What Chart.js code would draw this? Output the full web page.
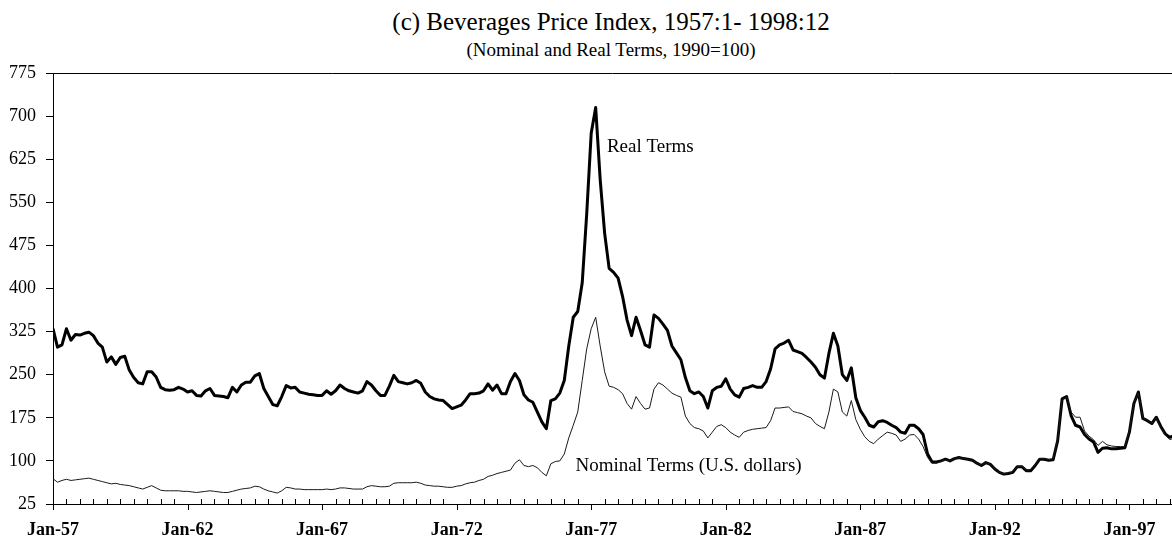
<!DOCTYPE html>
<html>
<head>
<meta charset="utf-8">
<title>Beverages Price Index</title>
<script src="https://cdn.jsdelivr.net/npm/chart.js@4.4.1/dist/chart.umd.min.js"></script>
<style>
  html, body { margin: 0; padding: 0; background: #fff; overflow: hidden; }
  #wrap { position: relative; width: 1172px; height: 542px; overflow: hidden; }
  .head { position: absolute; left: 0; width: 1222px; text-align: center; white-space: nowrap;
          font-family: "Liberation Serif", "Times New Roman", serif; color: #000; }
  #title { top: 9px; font-size: 25px; line-height: 26px; }
  #subtitle { top: 40px; font-size: 19px; line-height: 20px; }
  canvas { position: absolute; left: 0; top: 0; }
</style>
</head>
<body>
<div id="wrap">
  <div class="head" id="title">(c) Beverages Price Index, 1957:1- 1998:12</div>
  <div class="head" id="subtitle">(Nominal and Real Terms, 1990=100)</div>
  <canvas id="priceChart" width="1172" height="542"></canvas>
</div>
<script>
// x axis labels, one every 60 months starting Jan-57
const tickLabels = ['Jan-57', 'Jan-62', 'Jan-67', 'Jan-72', 'Jan-77', 'Jan-82', 'Jan-87', 'Jan-92', 'Jan-97'];
const yTicks = [25, 100, 175, 250, 325, 400, 475, 550, 625, 700, 775];

// values read every 2 months (Jan, Mar, May, Jul, Sep, Nov), 1957-1998
const monthStep = 2;

const realTerms = [
  330, 298, 302, 330, 310, 320,  // 1957
  319, 322, 324, 318, 305, 298,  // 1958
  272, 281, 268, 280, 282, 258,  // 1959
  245, 236, 234, 255, 255, 246,  // 1960
  228, 224, 223, 224, 228, 225,  // 1961
  220, 222, 214, 213, 222, 226,  // 1962
  214, 213, 212, 210, 228, 220,  // 1963
  232, 237, 237, 248, 252, 226,  // 1964
  212, 198, 196, 212, 231, 227,  // 1965
  228, 220, 218, 216, 215, 214,  // 1966
  214, 222, 216, 222, 232, 226,  // 1967
  222, 220, 218, 222, 238, 232,  // 1968
  222, 214, 214, 230, 249, 238,  // 1969
  236, 234, 236, 240, 235, 220,  // 1970
  212, 208, 206, 205, 198, 191,  // 1971
  194, 197, 206, 217, 217, 218,  // 1972
  222, 234, 223, 232, 217, 217,  // 1973
  238, 252, 240, 215, 206, 202,  // 1974
  185, 168, 156, 205, 208, 218,  // 1975
  240, 300, 350, 360, 410, 530,  // 1976
  670, 715, 590, 496, 435, 428,  // 1977
  418, 386, 345, 318, 350, 327,  // 1978
  302, 298, 354, 348, 338, 327,  // 1979
  300, 288, 276, 245, 222, 217,  // 1980
  220, 212, 192, 222, 228, 230,  // 1981
  243, 225, 215, 211, 226, 228,  // 1982
  231, 228, 228, 238, 260, 295,  // 1983
  302, 305, 310, 293, 290, 287,  // 1984
  280, 272, 263, 250, 244, 287,  // 1985
  322, 300, 250, 240, 262, 210,  // 1986
  188, 176, 162, 159, 168, 170,  // 1987
  167, 162, 158, 150, 148, 162,  // 1988
  162, 156, 146, 112, 98, 98,    // 1989
  100, 103, 100, 104, 106, 104,  // 1990
  103, 101, 96, 92, 97, 94,      // 1991
  86, 80, 77, 78, 80, 90,        // 1992
  90, 83, 83, 92, 103, 103,      // 1993
  101, 102, 135, 208, 212, 179,  // 1994
  162, 159, 146, 138, 133, 115,  // 1995
  122, 123, 121, 121, 122, 123,  // 1996
  150, 200, 220, 174, 170, 165,  // 1997
  176, 160, 147, 141, 144, 140   // 1998
];

const nominalTerms = [
  69, 63, 66, 68, 66, 67,        // 1957
  68, 69, 70, 68, 66, 64,        // 1958
  62, 60, 61, 59, 58, 57,        // 1959
  55, 53, 51, 54, 57, 53,        // 1960
  49, 48, 48, 48, 48, 47,        // 1961
  47, 46, 45, 46, 47, 48,        // 1962
  47, 46, 45, 45, 47, 49,        // 1963
  51, 52, 53, 56, 55, 51,        // 1964
  48, 46, 44, 48, 54, 53,        // 1965
  51, 51, 50, 50, 50, 50,        // 1966
  50, 51, 50, 51, 53, 53,        // 1967
  52, 51, 51, 51, 55, 57,        // 1968
  56, 55, 55, 56, 61, 62,        // 1969
  62, 62, 62, 63, 61, 58,        // 1970
  57, 56, 56, 55, 54, 54,        // 1971
  56, 57, 60, 62, 63, 66,        // 1972
  68, 73, 75, 78, 80, 82,        // 1973
  84, 96, 102, 92, 90, 92,       // 1974
  88, 80, 74, 95, 99, 100,       // 1975
  112, 140, 162, 185, 240, 295,  // 1976
  330, 350, 300, 255, 230, 228,  // 1977
  224, 217, 200, 190, 212, 200,  // 1978
  190, 192, 225, 236, 232, 225,  // 1979
  218, 214, 211, 178, 165, 158,  // 1980
  156, 152, 140, 150, 160, 163,  // 1981
  158, 150, 145, 141, 150, 153,  // 1982
  155, 156, 157, 158, 170, 192,  // 1983
  192, 193, 194, 186, 184, 182,  // 1984
  178, 175, 165, 160, 156, 185,  // 1985
  225, 220, 185, 178, 205, 172,  // 1986
  155, 142, 134, 130, 138, 144,  // 1987
  150, 148, 145, 134, 138, 145,  // 1988
  146, 138, 125, 106, 96, 96,    // 1989
  99, 102, 100, 104, 106, 104,   // 1990
  103, 101, 96, 93, 97, 94,      // 1991
  86, 80, 78, 79, 81, 90,        // 1992
  91, 84, 85, 93, 104, 104,      // 1993
  102, 104, 137, 206, 212, 185,  // 1994
  176, 176, 152, 143, 137, 127,  // 1995
  134, 128, 126, 125, 125, 125,  // 1996
  152, 200, 218, 175, 170, 165,  // 1997
  175, 158, 145, 137, 140, 138   // 1998
];

const serif = '"Liberation Serif", "Times New Roman", serif';

const toPoints = arr => arr.map((v, i) => ({ x: i * monthStep, y: v }));

// top border of the plot box and the half-year tick marks on the time axis
const frameLines = {
  id: 'frameLines',
  afterDraw(chart) {
    const { ctx, chartArea, scales } = chart;
    const x = scales.x;
    ctx.save();
    ctx.strokeStyle = '#000';
    ctx.lineWidth = 1;
    ctx.beginPath();
    ctx.moveTo(chartArea.left, chartArea.top + 0.5);
    ctx.lineTo(chartArea.right, chartArea.top + 0.5);
    for (let m = 0; m <= x.max; m += 6) {
      const px = Math.round(x.getPixelForValue(m)) + 0.5;
      if (m % 60 === 0) {
        ctx.moveTo(px, chartArea.bottom);
        ctx.lineTo(px, chartArea.bottom + 6);
      } else {
        ctx.moveTo(px, chartArea.bottom);
        ctx.lineTo(px, chartArea.bottom - 5);
      }
    }
    ctx.stroke();
    ctx.restore();
  }
};

// the two series names written next to the lines
const seriesNotes = {
  id: 'seriesNotes',
  afterDatasetsDraw(chart) {
    const { ctx, scales: { x, y } } = chart;
    ctx.save();
    ctx.fillStyle = '#000';
    ctx.font = '19px ' + serif;
    ctx.textAlign = 'left';
    ctx.textBaseline = 'middle';
    ctx.fillText('Real Terms', x.getPixelForValue(247), y.getPixelForValue(646));
    ctx.fillText('Nominal Terms (U.S. dollars)', x.getPixelForValue(233), y.getPixelForValue(91));
    ctx.restore();
  }
};

const ctx = document.getElementById('priceChart').getContext('2d');

new Chart(ctx, {
  type: 'line',
  data: {
    datasets: [
      {
        label: 'Nominal Terms (U.S. dollars)',
        data: toPoints(nominalTerms),
        borderColor: '#1a1a1a',
        borderWidth: 1,
        pointRadius: 0,
        tension: 0
      },
      {
        label: 'Real Terms',
        data: toPoints(realTerms),
        borderColor: '#000',
        borderWidth: 3,
        borderJoinStyle: 'round',
        pointRadius: 0,
        tension: 0
      }
    ]
  },
  options: {
    responsive: false,
    animation: false,
    layout: { padding: { top: 73, left: 0, right: 0, bottom: 0 } },
    plugins: {
      legend: { display: false },
      tooltip: { enabled: false }
    },
    scales: {
      x: {
        type: 'linear',
        min: 0,
        max: 499,
        grid: { display: false, drawTicks: false },
        border: { display: true, color: '#000', width: 1 },
        ticks: {
          autoSkip: false,
          maxRotation: 0,
          padding: 16,
          color: '#000',
          font: { family: serif, size: 18, weight: 'bold' },
          callback: v => tickLabels[v / 60]
        },
        afterBuildTicks: s => { s.ticks = tickLabels.map((_, i) => ({ value: i * 60 })); },
        afterFit: s => { s.height = 38; }
      },
      y: {
        min: 25,
        max: 775,
        grid: { drawOnChartArea: false, drawTicks: true, tickLength: 7, color: '#000' },
        border: { display: true, color: '#000', width: 1 },
        ticks: {
          padding: 10,
          color: '#000',
          font: { family: serif, size: 18 }
        },
        afterBuildTicks: s => { s.ticks = yTicks.map(v => ({ value: v })); },
        afterFit: s => { s.width = 53; }
      }
    }
  },
  plugins: [frameLines, seriesNotes]
});
</script>
</body>
</html>
